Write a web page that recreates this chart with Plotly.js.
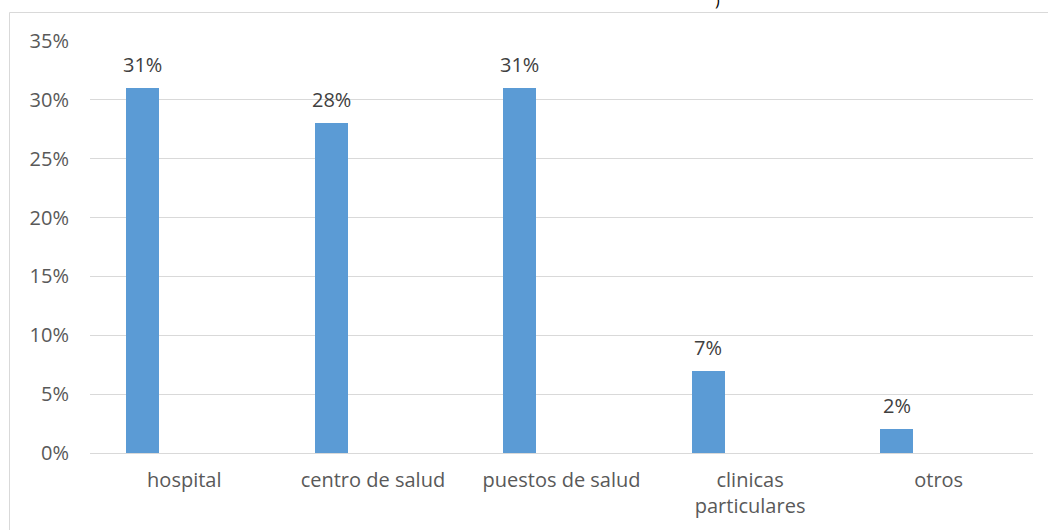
<!DOCTYPE html>
<html>
<head>
<meta charset="utf-8">
<script src="https://cdn.plot.ly/plotly-3.0.1.min.js"></script>
<style>html,body{margin:0;padding:0;background:#fff;}#chart{width:1048px;height:530px;}</style>
</head>
<body>
<div id="chart"></div>
<script>
var categories = ["hospital", "centro de salud", "puestos de salud", "clinicas<br>particulares", "otros"];
var values = [0.31, 0.28, 0.31, 0.07, 0.02];
var valueLabels = ["31%", "28%", "31%", "7%", "2%"];
var yTickValues = [0, 0.05, 0.10, 0.15, 0.20, 0.25, 0.30, 0.35];
var yTickLabels = ["0%", "5%", "10%", "15%", "20%", "25%", "30%", "35%"];

var barWidth = 0.175;
var barOffset = -0.309;
var FONT = "Open Sans, Liberation Sans, Arial, sans-serif";
var FS = 20;

var trace = {
  type: "bar",
  x: categories,
  y: values,
  width: barWidth,
  offset: barOffset,
  marker: {color: "#5b9bd5"},
  hoverinfo: "none"
};

var annotations = values.map(function (v, i) {
  return {
    x: i + barOffset + barWidth / 2,
    y: v,
    xref: "x", yref: "y",
    text: valueLabels[i],
    showarrow: false,
    yanchor: "bottom",
    yshift: 8,
    font: {family: FONT, size: FS, color: "#404040"}
  };
});
annotations.push({
  x: (717 - 90) / 943, y: 1 + (41 - 1) / 412, xref: "paper", yref: "paper",
  text: ")", showarrow: false, yanchor: "bottom", yshift: -12,
  font: {family: FONT, size: 16, color: "#000"}
});

var layout = {
  width: 1048, height: 530,
  margin: {l: 90, r: 15, t: 41, b: 77},
  paper_bgcolor: "#fff", plot_bgcolor: "#fff",
  showlegend: false,
  bargap: 0,
  xaxis: {
    type: "category",
    range: [-0.5, 4.5],
    showgrid: false, zeroline: false,
    showline: true, linecolor: "#d9d9d9", linewidth: 1,
    ticks: "",
    tickfont: {family: FONT, size: FS, color: "#595959"},
    ticklabelstandoff: 9
  },
  yaxis: {
    range: [0, 0.35],
    tickvals: yTickValues, ticktext: yTickLabels,
    showgrid: true, gridcolor: "#d9d9d9", gridwidth: 1,
    zeroline: false, showline: false, ticks: "",
    tickfont: {family: FONT, size: FS, color: "#595959"},
    ticklabelstandoff: 20
  },
  shapes: [{
    type: "rect", xref: "paper", yref: "paper",
    x0: (9.5 - 90) / 943, x1: (1060 - 90) / 943,
    y0: -(540 - 453) / 412, y1: 1 + (41 - 12.5) / 412,
    line: {color: "#d9d9d9", width: 1}, fillcolor: "rgba(0,0,0,0)", layer: "below"
  }],
  annotations: annotations
};

Plotly.newPlot("chart", [trace], layout, {displayModeBar: false, staticPlot: true});
</script>
</body>
</html>
